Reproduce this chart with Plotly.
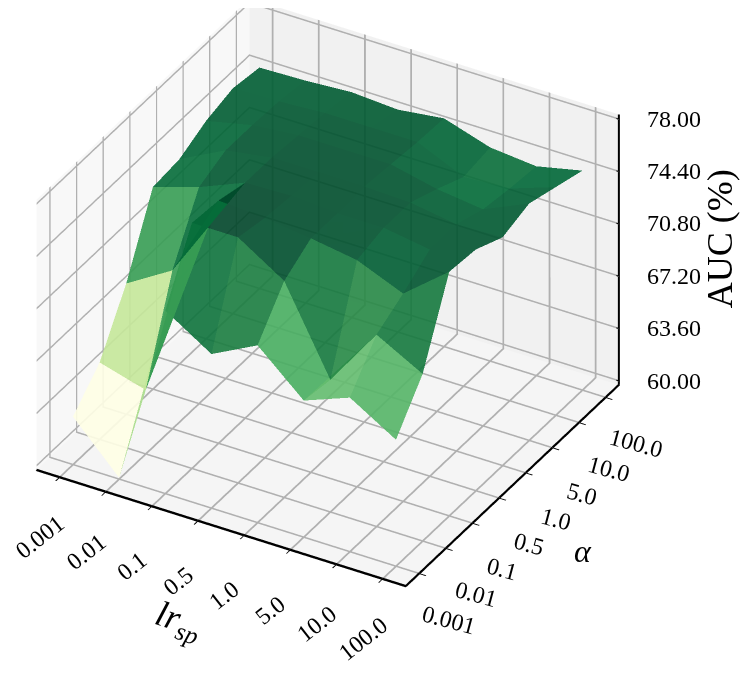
import numpy as np
import plotly.graph_objects as go

lr_labels = ['0.001', '0.01', '0.1', '0.5', '1.0', '5.0', '10.0', '100.0']
alpha_labels = ['0.001', '0.01', '0.1', '0.5', '1.0', '5.0', '10.0', '100.0']
auc_ticks = [60.0, 63.6, 67.2, 70.8, 74.4, 78.0]

# one row per alpha, one column per lr_sp
auc = [
    [63.0, 59.8, 72.3, 70.3, 71.9, 69.1, 70.3, 68.4],
    [65.0, 64.1, 76.6, 76.6, 74.6, 68.8, 72.9, 71.2],
    [68.7, 70.6, 76.4, 76.2, 75.8, 75.3, 74.0, 76.5],
    [73.6, 74.6, 75.9, 76.0, 75.8, 75.8, 75.3, 76.3],
    [73.8, 75.4, 75.9, 75.9, 75.9, 75.8, 75.3, 75.4],
    [74.7, 75.4, 75.7, 75.7, 75.7, 75.0, 74.6, 76.0],
    [75.2, 75.3, 75.5, 75.5, 75.5, 74.1, 74.3, 75.4],
    [74.9, 75.0, 75.2, 75.0, 75.4, 74.4, 74.1, 74.8],
]

FONT = 'Liberation Serif'
XY_RANGE = [-0.5, 7.5]
Z_RANGE = [59.7, 78.3]


def quad_mesh(z):
    """Two triangles per grid cell, both coloured by the mean of the cell."""
    z = np.array(z)
    n_a, n_l = z.shape
    xx, yy = np.meshgrid(np.arange(n_l), np.arange(n_a))
    i, j, k, cell = [], [], [], []
    for a in range(n_a - 1):
        for l in range(n_l - 1):
            p = a * n_l + l
            mean = z[a:a + 2, l:l + 2].mean()
            i += [p, p]
            j += [p + 1, p + n_l + 1]
            k += [p + n_l + 1, p + n_l]
            cell += [mean, mean]
    return xx.ravel(), yy.ravel(), z.ravel(), i, j, k, cell


x, y, z, i, j, k, cell = quad_mesh(auc)

fig = go.Figure(go.Mesh3d(
    x=x, y=y, z=z, i=i, j=j, k=k,
    intensity=cell, intensitymode='cell',
    colorscale='YlGn', showscale=False, cmin=63, cmax=76.3,
    opacity=0.9, flatshading=True,
    lighting=dict(ambient=1.0, diffuse=0.05, specular=0, roughness=1, fresnel=0),
    lightposition=dict(x=-1000, y=-1000, z=2000),
))

# z axis has to sit on the right hand corner, plotly would put it on the left
zx, zy, zz = [XY_RANGE[1], XY_RANGE[1]], [XY_RANGE[1], XY_RANGE[1]], list(Z_RANGE)
for t in auc_ticks:
    zx += [None, XY_RANGE[1] - 0.05, XY_RANGE[1] + 0.2]
    zy += [None, XY_RANGE[1], XY_RANGE[1]]
    zz += [None, t, t]
fig.add_trace(go.Scatter3d(x=zx, y=zy, z=zz, mode='lines', line=dict(color='black', width=4),
                           hoverinfo='skip'))

notes = []
for n, label in enumerate(lr_labels):
    notes.append(dict(x=n, y=XY_RANGE[0], z=Z_RANGE[0], text=label, showarrow=False, textangle=-38,
                      xshift=-20, yshift=-60, font=dict(family=FONT, size=24, color='black')))
for n, label in enumerate(alpha_labels):
    notes.append(dict(x=XY_RANGE[1], y=n, z=Z_RANGE[0], text=label, showarrow=False, textangle=15,
                      xshift=30, yshift=-46, font=dict(family=FONT, size=24, color='black')))
for t in auc_ticks:
    notes.append(dict(x=XY_RANGE[1], y=XY_RANGE[1], z=t, text=f'{t:.2f}', showarrow=False,
                      xanchor='left', xshift=26, font=dict(family=FONT, size=24, color='black')))

axis = dict(
    showbackground=True, gridcolor='#b0b0b0', gridwidth=4,
    showline=True, linecolor='black', linewidth=5,
    ticks='outside', ticklen=8, tickwidth=2, tickcolor='black',
    title=dict(text=''), zeroline=False, showspikes=False, showticklabels=False,
)

VIEW = np.array([0.419, -0.726, 0.545]) * 2.0
CENTER = np.array([0.183, 0.0014, -0.14])

fig.update_layout(
    width=748, height=682,
    margin=dict(l=0, r=0, t=0, b=0),
    paper_bgcolor='white',
    showlegend=False,
    scene=dict(
        xaxis=dict(axis, range=XY_RANGE, tickvals=list(range(8)), backgroundcolor='#f8f8f8'),
        yaxis=dict(axis, range=XY_RANGE, tickvals=list(range(8)), backgroundcolor='#f1f1f1'),
        zaxis=dict(axis, range=Z_RANGE, tickvals=auc_ticks, ticks='', showline=False,
                   backgroundcolor='#f5f5f5'),
        aspectmode='manual',
        aspectratio=dict(x=1.25, y=1.25, z=0.946),
        camera=dict(
            projection=dict(type='orthographic'),
            eye=dict(zip('xyz', (CENTER + VIEW).tolist())),
            center=dict(zip('xyz', CENTER.tolist())),
            up=dict(x=0, y=0, z=1),
        ),
        annotations=notes,
    ),
    annotations=[
        dict(x=0.185, y=0.055, xref='paper', yref='paper', text='<i>lr<sub>sp</sub></i>', showarrow=False,
             textangle=18, font=dict(family=FONT, size=36, color='black')),
        dict(x=0.783, y=0.175, xref='paper', yref='paper', text='<i>α</i>', showarrow=False,
             font=dict(family=FONT, size=32, color='black')),
        dict(x=0.981, y=0.662, xref='paper', yref='paper', text='AUC (%)', showarrow=False,
             textangle=-90, font=dict(family=FONT, size=36, color='black')),
    ],
)

fig.write_html('out.html')
